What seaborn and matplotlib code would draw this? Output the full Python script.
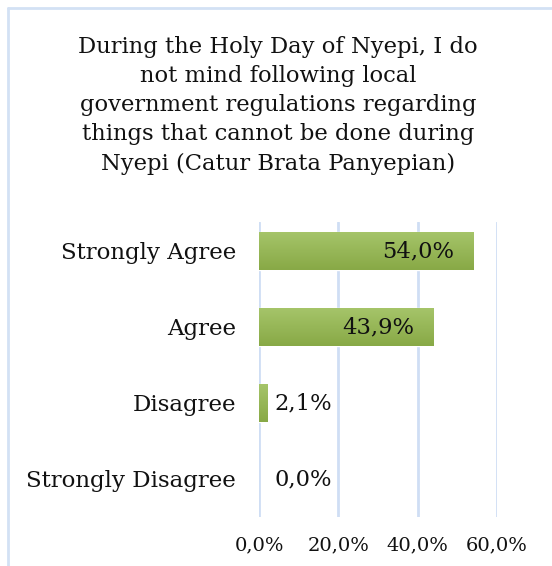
import matplotlib
matplotlib.use("Agg")
import matplotlib.pyplot as plt
import numpy as np
import pandas as pd
import seaborn as sns
from matplotlib.colors import LinearSegmentedColormap
from matplotlib.lines import Line2D

categories = ["Strongly Agree", "Agree", "Disagree", "Strongly Disagree"]
percentages = [54.0, 43.9, 2.1, 0.0]
tick_values = [0, 20, 40, 60]
title = ("During the Holy Day of Nyepi, I do\nnot mind following local\n"
         "government regulations regarding\nthings that cannot be done during\n"
         "Nyepi (Catur Brata Panyepian)")

df = pd.DataFrame({"category": categories, "percent": percentages})

sns.set_theme(style="white")
plt.rcParams["font.family"] = ["DejaVu Serif"]

W, H = 552, 566
fig = plt.figure(figsize=(W / 100, H / 100), dpi=100)
fig.patch.set_facecolor("white")

left, right, top, bottom = 259, 497, 222, 517
ax = fig.add_axes([left / W, 1 - bottom / H, (right - left) / W, (bottom - top) / H])

sns.barplot(data=df, x="percent", y="category", order=categories,
            color="#9bbb59", width=0.51, saturation=1, ax=ax, zorder=3)

band = 76.0
ylim = (3.5, -0.5 + 9 / band)

# vertical gradient fill on each bar
grad = LinearSegmentedColormap.from_list("g", ["#a6c56a", "#88a946"])
for patch in ax.patches:
    x0, y0 = patch.get_x(), patch.get_y()
    w, h = patch.get_width(), patch.get_height()
    if w <= 0:
        patch.set_visible(False)
        continue
    img = ax.imshow(np.linspace(0, 1, 64).reshape(-1, 1), cmap=grad,
                    extent=[x0, x0 + w, y0 + h, y0], aspect="auto",
                    zorder=3.5, interpolation="bilinear")
    img.set_clip_path(patch)
ax.set_xlim(0, 60)
ax.set_ylim(*ylim)

ax.set_xticks(tick_values)
ax.set_xticklabels([f"{v:.1f}%".replace(".", ",") for v in tick_values], fontsize=14)
ax.tick_params(axis="x", length=0, pad=14, labelcolor="#111111")
ax.tick_params(axis="y", length=0, pad=16.5, labelsize=16.5, labelcolor="#111111")
ax.set_xlabel("")
ax.set_ylabel("")
ax.grid(axis="x", color="#cfdef4", linewidth=2, zorder=0)
ax.set_axisbelow(True)
for s in ax.spines.values():
    s.set_visible(False)

# value labels
for i, v in enumerate(percentages):
    label = f"{v:.1f}%".replace(".", ",")
    if v > 20:
        ax.text(v - 4.8, i, label, ha="right", va="center", fontsize=16.3,
                color="#111111", zorder=5)
    else:
        ax.text(max(v + 1.8, 4.0), i, label, ha="left", va="center", fontsize=16.3,
                color="#111111", zorder=5)

fig.text(278 / W, 1 - 36 / H, title, ha="center", va="top",
         fontsize=16.3, linespacing=1.42, color="#111111")

# outer chart frame
frame_color = "#d3e1f4"
fig.add_artist(Line2D([8 / W, 1], [1 - 8 / H, 1 - 8 / H], color=frame_color, lw=2,
                      transform=fig.transFigure))
fig.add_artist(Line2D([8 / W, 8 / W], [0, 1 - 8 / H], color=frame_color, lw=2,
                      transform=fig.transFigure))

fig.savefig("out.png", dpi=100, facecolor="white")
